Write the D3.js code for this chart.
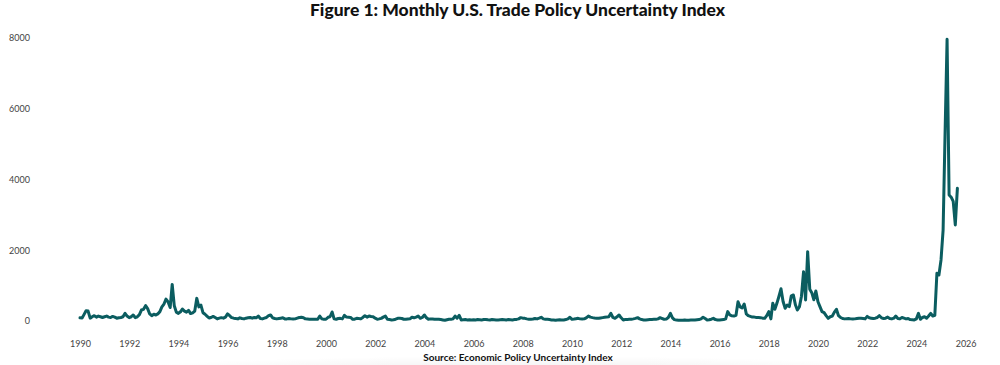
<!DOCTYPE html>
<html><head><meta charset="utf-8">
<script src="https://cdn.jsdelivr.net/npm/d3@7"></script>
<style>body{margin:0;background:#fff;} svg{display:block}</style>
</head><body><svg id="c" width="1000" height="365"></svg>
<script>
const titleText = "Figure 1: Monthly U.S. Trade Policy Uncertainty Index";
const sourceText = "Source: Economic Policy Uncertainty Index";
const startYear = 1990;
const tpu1990s = [
  90, 85, 180, 290, 280, 80, 120, 150, 110, 140, 120, 100,
  120, 140, 110, 100, 130, 110, 80, 90, 100, 120, 215, 140,
  95, 120, 170, 95, 120, 180, 310, 330, 435, 350, 200, 150,
  190, 170, 200, 265, 400, 480, 620, 540, 380, 1035, 430, 250,
  215, 260, 340, 280, 250, 300, 210, 230, 280, 640, 400, 450,
  235, 190, 140, 85, 100, 130, 100, 60, 80, 95, 80, 110,
  200, 150, 95, 80, 70, 60, 90, 70, 60, 80, 90, 100,
  80, 100, 90, 140, 70, 60, 80, 100, 150, 170, 90, 70,
  60, 70, 80, 90, 60, 60, 70, 60, 55, 60, 80, 100,
  105, 90, 60, 55, 50, 48, 50, 48, 50, 140, 60, 50
];
const tpu2000s = [
  50, 105, 120, 255, 60, 50, 70, 75, 60, 160, 110, 105,
  100, 48, 50, 75, 70, 60, 100, 150, 110, 140, 125, 120,
  80, 48, 60, 75, 110, 140, 48, 40, 30, 35, 50, 75,
  75, 70, 50, 48, 55, 60, 105, 90, 110, 140, 75, 100,
  170, 90, 48, 60, 55, 48, 50, 48, 40, 30, 20, 35,
  48, 50, 60, 140, 80, 160, 30, 35, 40, 30, 35, 30,
  35, 30, 40, 35, 30, 40, 45, 35, 30, 40, 35, 30,
  30, 35, 40, 35, 30, 40, 35, 30, 40, 45, 60, 95,
  80, 75, 60, 50, 48, 55, 70, 60, 80, 105, 60, 48,
  48, 40, 30, 25, 20, 30, 35, 30, 30, 40, 60, 105
];
const tpu2010s = [
  48, 55, 65, 75, 60, 55, 60, 90, 140, 110, 95, 85,
  80, 75, 85, 95, 105, 110, 120, 215, 100, 75, 120, 170,
  90, 30, 40, 45, 48, 50, 60, 75, 95, 60, 40, 30,
  30, 35, 40, 45, 48, 48, 60, 95, 70, 48, 55, 100,
  215, 90, 40, 25, 20, 20, 20, 25, 20, 20, 25, 30,
  30, 35, 40, 60, 105, 70, 30, 35, 50, 75, 40, 30,
  30, 35, 40, 60, 265, 170, 145, 140, 160, 545, 400, 370,
  480, 200, 150, 130, 110, 110, 100, 100, 95, 80, 75, 150,
  265, 60, 500, 330, 500, 700, 910, 550, 360, 450, 405, 710,
  735, 450, 310, 405, 700, 1395, 595, 1960, 900, 800, 600, 850
];
const tpu2020s = [
  545, 400, 265, 235, 150, 75, 120, 140, 250, 330, 150, 100,
  70, 60, 65, 70, 60, 55, 60, 70, 80, 75, 70, 60,
  130, 90, 80, 70, 80, 100, 150, 90, 70, 80, 110, 70,
  60, 80, 140, 70, 60, 100, 80, 60, 70, 40, 35, 30,
  60, 215, 50, 100, 120, 80, 140, 215, 140, 160, 1350, 1300,
  1725, 2570, 5200, 7965, 3560, 3500, 3380, 2715, 3750
];
const yTickValues = [0, 2000, 4000, 6000, 8000];
const xTickYears = [1990, 1992, 1994, 1996, 1998, 2000, 2002, 2004, 2006, 2008, 2010, 2012, 2014, 2016, 2018, 2020, 2022, 2024, 2026];

const values = [].concat(tpu1990s, tpu2000s, tpu2010s, tpu2020s);
const data = values.map((v, i) => ({date: new Date(startYear, i, 1), value: v}));

const svg = d3.select("#c");
const x = d3.scaleTime().domain([new Date(1990, 0, 1), new Date(2026, 0, 1)]).range([80, 965.6]);
const y = d3.scaleLinear().domain([0, 8000]).range([321, 38]);

// soft bottom shadow
const defs = svg.append("defs");
const rg = defs.append("radialGradient").attr("id", "sh");
rg.append("stop").attr("offset", "0%").attr("stop-color", "#000").attr("stop-opacity", 0.07);
rg.append("stop").attr("offset", "100%").attr("stop-color", "#000").attr("stop-opacity", 0);
svg.append("ellipse").attr("cx", 520).attr("cy", 372).attr("rx", 420).attr("ry", 16).attr("fill", "url(#sh)");

svg.append("text").attr("x", 517.5).attr("y", 15.5).attr("text-anchor", "middle")
  .attr("font-family", "Lato, sans-serif").attr("font-weight", 900).attr("font-size", 17)
  .attr("textLength", 415).attr("lengthAdjust", "spacingAndGlyphs")
  .attr("fill", "#111").text(titleText);

const yAxis = svg.append("g").attr("transform", "translate(31,0)")
  .call(d3.axisLeft(y).tickValues(yTickValues).tickSize(0).tickPadding(1).tickFormat(d3.format("d")));
yAxis.select(".domain").remove();
yAxis.selectAll("text").attr("font-family", "Lato, sans-serif").attr("font-size", 9).attr("fill", "#444");

const xAxis = svg.append("g").attr("transform", "translate(0,340.5)")
  .call(d3.axisBottom(x).tickValues(xTickYears.map(yr => new Date(yr, 0, 1))).tickSize(0).tickPadding(0).tickFormat(d3.timeFormat("%Y")));
xAxis.select(".domain").remove();
xAxis.selectAll("text").attr("font-family", "Lato, sans-serif").attr("font-size", 9).attr("fill", "#444");

const line = d3.line().x(d => x(d.date)).y(d => y(d.value));
svg.append("path").datum(data).attr("d", line)
  .attr("fill", "none").attr("stroke", "#0b5d60").attr("stroke-width", 3)
  .attr("stroke-linejoin", "round").attr("stroke-linecap", "round");

svg.append("text").attr("x", 518).attr("y", 360.5).attr("text-anchor", "middle")
  .attr("font-family", "Lato, sans-serif").attr("font-weight", 700).attr("font-size", 10)
  .attr("fill", "#111").text(sourceText);
</script></body></html>
